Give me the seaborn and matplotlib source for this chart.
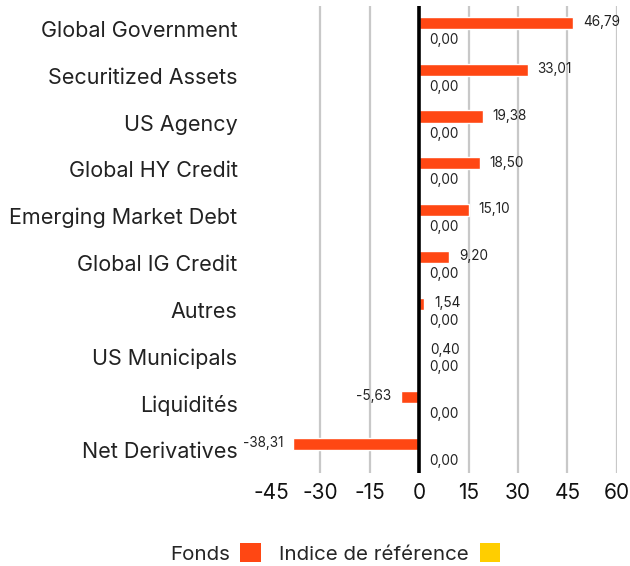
import matplotlib
matplotlib.use("Agg")
import matplotlib.pyplot as plt
import seaborn as sns
import pandas as pd
from matplotlib.patches import Patch

categories = ["Global Government", "Securitized Assets", "US Agency", "Global HY Credit",
              "Emerging Market Debt", "Global IG Credit", "Autres", "US Municipals",
              "Liquidités", "Net Derivatives"]
fonds = [46.79, 33.01, 19.38, 18.50, 15.10, 9.20, 1.54, 0.40, -5.63, -38.31]
indice = [0.00] * 10
series_names = ["Fonds", "Indice de référence"]
xticks = [-45, -30, -15, 0, 15, 30, 45, 60]

colors = ["#FF4713", "#FFCE00"]

sns.set_theme(style="white")
plt.rcParams['font.family'] = ['Inter', 'DejaVu Sans']

df = pd.DataFrame({
    "cat": categories * 2,
    "val": fonds + indice,
    "series": [series_names[0]] * 10 + [series_names[1]] * 10,
})

fig = plt.figure(figsize=(6.3, 5.66), dpi=100)
ax = fig.add_axes([0.430, 0.1636, 0.549, 0.8264])

sns.barplot(data=df, y="cat", x="val", hue="series", orient="h", order=categories,
            hue_order=series_names, palette=colors, width=0.52, legend=False,
            saturation=1, ax=ax, errorbar=None)

ax.set_xlim(-45, 60)
ax.set_xticks(xticks)
ax.set_xticklabels([str(t) for t in xticks], fontsize=15, color="#111111")
ax.tick_params(axis="x", length=0, pad=7)
ax.tick_params(axis="y", length=0, pad=24, labelsize=15.5, labelcolor="#222222")
ax.set_xlabel("")
ax.set_ylabel("")
for s in ax.spines.values():
    s.set_visible(False)

ax.set_axisbelow(True)
ax.xaxis.grid(True, color="#c8c8c8", linewidth=1.6)
ax.get_xgridlines()[0].set_visible(False)
ax.axvline(0, color="black", linewidth=2.6, zorder=4)

for i, (cont, vals) in enumerate(zip(ax.containers, [fonds, indice])):
    labels = [f"{v:.2f}".replace(".", ",") for v in vals]
    texts = ax.bar_label(cont, labels=labels, padding=7, fontsize=9.8, color="#222222")
    for t in texts:
        x0, y0 = t.xyann
        t.xyann = (x0, y0 + (0.5 if i == 0 else -3.5))

handles = [Patch(facecolor=c, edgecolor="none") for c in colors]
fig.legend(handles, series_names, loc="center", bbox_to_anchor=(0.532, 0.022), ncol=2,
           frameon=False, markerfirst=False, fontsize=14.8, handlelength=1.0,
           handleheight=1.0, handletextpad=0.5, columnspacing=0.9)

fig.savefig("out.png", dpi=100)
